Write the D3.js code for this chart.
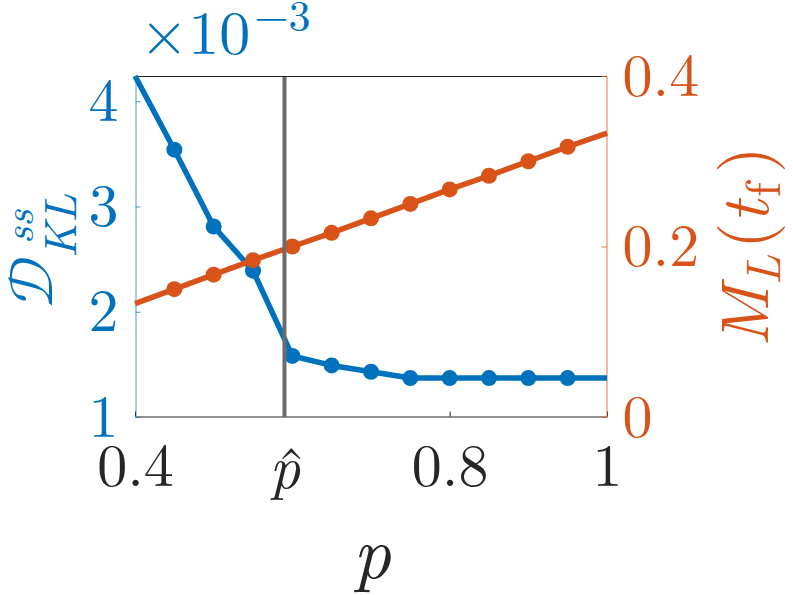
<!DOCTYPE html>
<html>
<head>
<meta charset="utf-8">
<script src="https://cdn.jsdelivr.net/npm/d3@7/dist/d3.min.js"></script>
<style>
  html, body { margin: 0; padding: 0; background: #fff; }
  svg { display: block; }
</style>
</head>
<body>
<svg id="chart" width="793" height="595"></svg>
<script>
// ---- data ----
const pValues   = [0.40, 0.45, 0.50, 0.55, 0.60, 0.65, 0.70, 0.75, 0.80, 0.85, 0.90, 0.95, 1.00];
const dklValues = [4.24, 3.54, 2.81, 2.39, 1.58, 1.49, 1.43, 1.37, 1.37, 1.37, 1.37, 1.37, 1.37]; // ×10^-3
const mlValues  = [0.133, 0.150, 0.167, 0.184, 0.200, 0.216, 0.233, 0.250, 0.267, 0.283, 0.300, 0.317, 0.333];
const markerIdx = [1, 2, 3, 4, 5, 6, 7, 8, 9, 10, 11];
const pHat = 0.59;
const xTickValues = [0.4, pHat, 0.8, 1];
const xTickLabels = ["0.4", "", "0.8", "1"];
const leftTickValues = [1, 2, 3, 4];
const leftTickLabels = ["1", "2", "3", "4"];
const rightTickValues = [0, 0.2, 0.4];
const rightTickLabels = ["0", "0.2", "0.4"];

const BLUE = "#0072BD", ORANGE = "#D95319", DARK = "#262626", GRAY = "#6b6b6b";

// pick an installed font from a list
function pickFont(cands, generic) {
  const ctx = document.createElement("canvas").getContext("2d");
  const s = "abcdefghijklmnopqrstuvwxyzABCDEFGHIJKLM0123456789";
  const w = f => { ctx.font = "72px " + f; return ctx.measureText(s).width; };
  const wm = w("monospace"), ws = w("sans-serif");
  for (const c of cands) {
    if (w(`"${c}", monospace`) !== wm || w(`"${c}", sans-serif`) !== ws) return `"${c}", ${generic}`;
  }
  return generic;
}
const SERIF = pickFont(["Latin Modern Roman", "CMU Serif", "Liberation Serif", "Tinos", "Times New Roman",
                 "Nimbus Roman", "FreeSerif", "Noto Serif", "DejaVu Serif", "STIXGeneral", "Georgia"], "serif");
const MATH = pickFont(["Latin Modern Math", "STIX Two Math", "XITS Math", "Cambria Math", "STIXGeneral"], "serif");

const svg = d3.select("#chart");
const L = 135, R = 607, T = 76, B = 417;
const x = d3.scaleLinear().domain([0.4, 1]).range([L, R]);
const yL = d3.scaleLinear().domain([1, 4.24]).range([B, T]);
const yR = d3.scaleLinear().domain([0, 0.4]).range([B, T]);

const tickFont = 60;

// top frame line
svg.append("line").attr("x1", L).attr("x2", R).attr("y1", T + 0.5).attr("y2", T + 0.5)
  .attr("stroke", DARK).attr("stroke-width", 1);

// x axis
const xAxis = d3.axisBottom(x).tickValues(xTickValues)
  .tickFormat((d, i) => xTickLabels[i]).tickSizeInner(-5).tickSizeOuter(0).tickPadding(27);
const gx = svg.append("g").attr("transform", `translate(0,${B - 0.5})`).call(xAxis);
gx.select(".domain").attr("stroke", DARK);
gx.selectAll(".tick line").attr("stroke", DARK);
gx.selectAll("text").attr("fill", DARK).style("font-size", tickFont + "px").style("font-family", SERIF);

// left axis
const yLAxis = d3.axisLeft(yL).tickValues(leftTickValues)
  .tickFormat((d, i) => leftTickLabels[i]).tickSizeInner(-5).tickSizeOuter(0).tickPadding(17);
const gl = svg.append("g").attr("transform", `translate(${L + 0.5},0)`).call(yLAxis);
gl.select(".domain").attr("stroke", BLUE).attr("stroke-opacity", 0.7);
gl.selectAll(".tick line").attr("stroke", BLUE).attr("stroke-opacity", 0.7);
gl.selectAll("text").attr("fill", BLUE).style("font-size", tickFont + "px").style("font-family", SERIF);

// right axis
const yRAxis = d3.axisRight(yR).tickValues(rightTickValues)
  .tickFormat((d, i) => rightTickLabels[i]).tickSizeInner(-5).tickSizeOuter(0).tickPadding(16);
const gr = svg.append("g").attr("transform", `translate(${R - 0.5},0)`).call(yRAxis);
gr.select(".domain").attr("stroke", ORANGE).attr("stroke-opacity", 0.8);
gr.selectAll(".tick line").attr("stroke", ORANGE).attr("stroke-opacity", 0.8);
gr.selectAll("text").attr("fill", ORANGE).style("font-size", tickFont + "px").style("font-family", SERIF);

// series
const blueData = pValues.map((p, i) => [p, dklValues[i]]);
const orangeData = pValues.map((p, i) => [p, mlValues[i]]);
const lineL = d3.line().x(d => x(d[0])).y(d => yL(d[1]));
const lineR = d3.line().x(d => x(d[0])).y(d => yR(d[1]));

svg.append("path").datum(blueData).attr("d", lineL)
  .attr("fill", "none").attr("stroke", BLUE).attr("stroke-width", 5.5).attr("stroke-linejoin", "round");
svg.append("g").selectAll("circle").data(markerIdx).join("circle")
  .attr("cx", i => x(pValues[i])).attr("cy", i => yL(dklValues[i])).attr("r", 8).attr("fill", BLUE);

svg.append("path").datum(orangeData).attr("d", lineR)
  .attr("fill", "none").attr("stroke", ORANGE).attr("stroke-width", 5.5).attr("stroke-linejoin", "round");
svg.append("g").selectAll("circle").data(markerIdx).join("circle")
  .attr("cx", i => x(pValues[i])).attr("cy", i => yR(mlValues[i])).attr("r", 8).attr("fill", ORANGE);

// vertical line at p-hat
svg.append("line").attr("x1", x(pHat)).attr("x2", x(pHat)).attr("y1", T + 1).attr("y2", B)
  .attr("stroke", GRAY).attr("stroke-width", 4);

const txt = sel => sel.style("font-family", SERIF);

// p-hat tick label (p with a hat)
const phx = x(pHat);
const ph = svg.append("text").attr("x", phx - 15).attr("y", 488).attr("font-size", tickFont)
  .attr("fill", DARK).call(txt);
ph.append("tspan").attr("font-style", "italic").text("p");
ph.append("tspan").attr("dx", -24).attr("dy", 2).text("ˆ");

// x label
svg.append("text").attr("x", 372).attr("y", 578).attr("text-anchor", "middle")
  .attr("font-style", "italic").attr("font-size", 74).attr("fill", DARK).call(txt).text("p");

// ×10^-3
const mult = svg.append("text").attr("x", 140).attr("y", 54).attr("fill", BLUE).attr("font-size", 62).call(txt);
mult.append("tspan").text("×10");
mult.append("tspan").attr("font-size", 44).attr("dy", -23).attr("dx", 4).text("−3");

// left y label (rotated)
const gLeft = svg.append("g").attr("transform", "translate(52,308) rotate(-90)").attr("fill", BLUE);
gLeft.append("text").attr("x", 0).attr("y", 0).attr("font-size", 60).style("font-family", MATH).text("𝒟");
gLeft.append("text").attr("x", 64).attr("y", -19).attr("font-size", 42).attr("font-style", "italic").call(txt).text("ss");
gLeft.append("text").attr("x", 50).attr("y", 24).attr("font-size", 46).attr("font-style", "italic").call(txt).text("KL");

// right y label (rotated)
const gRight = svg.append("g").attr("transform", "translate(768,347) rotate(-90)").attr("fill", ORANGE);
gRight.append("text").attr("x", 0).attr("y", 0).attr("font-size", 68).attr("font-style", "italic").call(txt).text("M");
gRight.append("text").attr("x", 62).attr("y", 12).attr("font-size", 48).attr("font-style", "italic").call(txt).text("L");
gRight.append("text").attr("x", 98).attr("y", 0).attr("font-size", 68).call(txt).text("(");
gRight.append("text").attr("x", 124).attr("y", 0).attr("font-size", 68).attr("font-style", "italic").call(txt).text("t");
gRight.append("text").attr("x", 150).attr("y", 12).attr("font-size", 48).call(txt).text("f");
gRight.append("text").attr("x", 174).attr("y", 0).attr("font-size", 68).call(txt).text(")");
</script>
</body>
</html>
